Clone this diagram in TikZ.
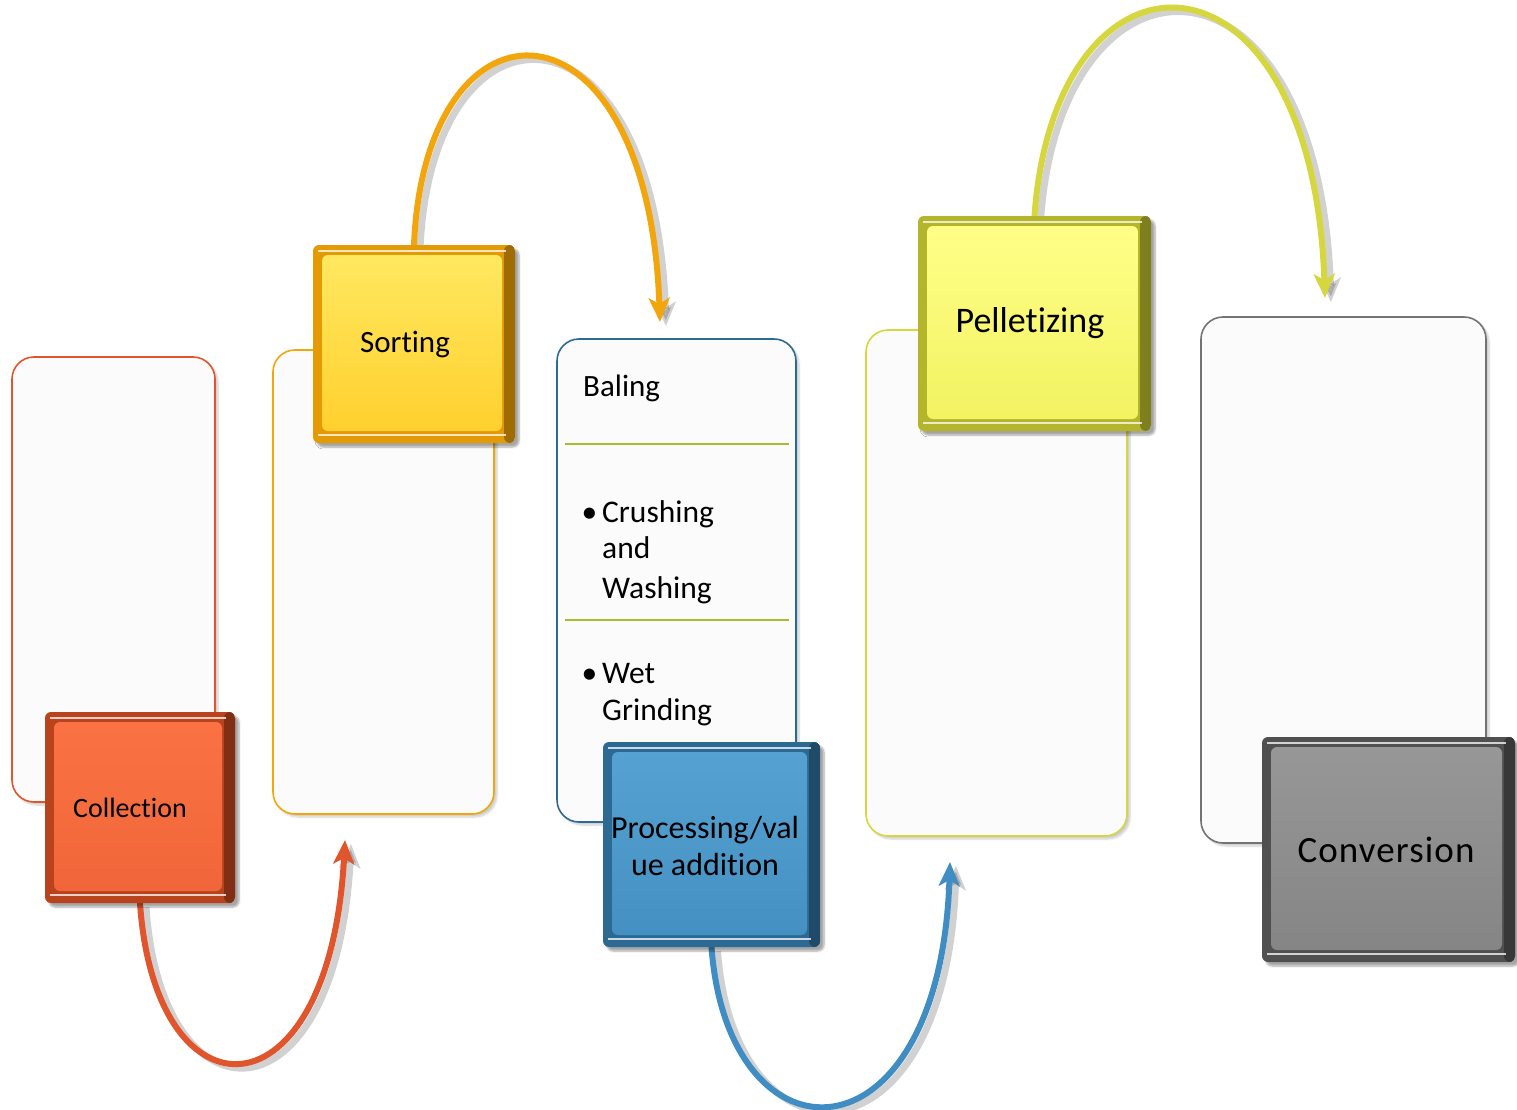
\documentclass[tikz,border=0pt]{standalone}
\usepackage{fontspec}
\setmainfont{Carlito}[Ligatures={NoCommon,NoRare}]
\usetikzlibrary{arrows.meta,shadows.blur}
\pgfdeclarelayer{background}
\pgfsetlayers{background,main}

\definecolor{redD}{HTML}{B8431C}
\definecolor{redM}{HTML}{F0663A}
\definecolor{redL}{HTML}{FA7244}
\definecolor{redA}{HTML}{E0552C}
\definecolor{golD}{HTML}{E39A05}
\definecolor{golM}{HTML}{FFD02E}
\definecolor{golL}{HTML}{FFE860}
\definecolor{golA}{HTML}{F2A60C}
\definecolor{bluD}{HTML}{2C6A94}
\definecolor{bluM}{HTML}{4590C2}
\definecolor{bluL}{HTML}{55A2D2}
\definecolor{bluA}{HTML}{3F8DC2}
\definecolor{yelD}{HTML}{B5B52C}
\definecolor{yelM}{HTML}{F2F262}
\definecolor{yelL}{HTML}{FFFF88}
\definecolor{yelA}{HTML}{D6D63E}
\definecolor{gryD}{HTML}{505050}
\definecolor{gryM}{HTML}{858585}
\definecolor{gryL}{HTML}{979797}
\definecolor{sepG}{HTML}{A4BE2E}

\tikzset{
  panel/.style={draw=#1, line width=1.6pt, fill=white!98.5!black,
    rounded corners=22pt, inner sep=0pt,
    blur shadow={shadow xshift=3pt, shadow yshift=-3pt, shadow opacity=20, shadow blur steps=6}},
  stepbox/.style n args={3}{fill=#1, rounded corners=6pt, inner sep=0pt,
    blur shadow={shadow xshift=4pt, shadow yshift=-4pt, shadow opacity=35, shadow blur steps=6},
    path picture={
      \fill[#1!70!black] ([shift={(-11pt,0pt)}]path picture bounding box.north east) rectangle (path picture bounding box.south east);
      \shade[top color=#3, bottom color=#2]
        ([shift={(9pt,-10pt)}]path picture bounding box.north west) rectangle
        ([shift={(-13pt,12pt)}]path picture bounding box.south east);
      \draw[white, opacity=0.75, line width=2.2pt]
        ([shift={(5pt,-6pt)}]path picture bounding box.north west) --
        ([shift={(-9pt,-6pt)}]path picture bounding box.north east);
      \draw[white, opacity=0.75, line width=2.2pt]
        ([shift={(5pt,8pt)}]path picture bounding box.south west) --
        ([shift={(-9pt,8pt)}]path picture bounding box.south east);
    }},
  flow/.style={draw=#1, line width=6pt, line cap=round,
    -{Stealth[length=24pt,width=21pt,inset=6pt]}},
  flowshadow/.style={draw=black, opacity=0.18, line width=7pt,
    -{Stealth[length=24pt,width=21pt,inset=6pt]}},
  lbl/.style={text=black, inner sep=0pt},
  sep/.style={draw=sepG, line width=2pt}
}

\begin{document}
\begin{tikzpicture}[x=1pt,y=-1pt]
\useasboundingbox (0,0) rectangle (1517,1110);

% ---------- panels ----------
\node[panel=redA, minimum width=203pt, minimum height=445pt] (p1) at (113.5,579.5) {};
\node[panel=golA, minimum width=221pt, minimum height=464pt] (p2) at (383.5,582) {};
\node[panel=bluD, minimum width=239pt, minimum height=483pt] (p3) at (676.5,580.5) {};
\node[panel=yelA, minimum width=261pt, minimum height=506pt] (p4) at (996.5,583) {};
\node[panel=gryD!80, minimum width=285pt, minimum height=526pt] (p5) at (1343.5,580) {};

\draw[sep] (565,444) -- (789,444);
\draw[sep] (565,620) -- (789,620);

\node[lbl, anchor=base west, font=\fontsize{31}{37}\selectfont] (baling) at (583,396) {Baling};
\node[lbl, anchor=base west, font=\fontsize{31.5}{37}\selectfont] (cr1) at (602,522) {\llap{\textbullet\hspace{5pt}}Crushing};
\node[lbl, anchor=base west, font=\fontsize{31.5}{37}\selectfont] (cr2) at (602,558) {and};
\node[lbl, anchor=base west, font=\fontsize{31.5}{37}\selectfont] (cr3) at (602,598) {Washing};
\node[lbl, anchor=base west, font=\fontsize{31.5}{37}\selectfont] (wg1) at (602,683) {\llap{\textbullet\hspace{5pt}}Wet};
\node[lbl, anchor=base west, font=\fontsize{31.5}{37}\selectfont] (wg2) at (602,720) {Grinding};

% ---------- step boxes ----------
\node[stepbox={redD}{redM}{redL}, minimum width=190pt, minimum height=191pt] (b1) at (140,807.5) {};
\node[stepbox={golD}{golM}{golL}, minimum width=202pt, minimum height=198pt] (b2) at (414,344) {};
\node[stepbox={bluD}{bluM}{bluL}, minimum width=217pt, minimum height=205pt] (b3) at (711.5,844.5) {};
\node[stepbox={yelD}{yelM}{yelL}, minimum width=233pt, minimum height=215pt] (b4) at (1034.5,323.5) {};
\node[stepbox={gryD}{gryM}{gryL}, minimum width=253pt, minimum height=225pt] (b5) at (1388.5,849.5) {};

\node[lbl, font=\fontsize{28}{34}\selectfont] (t-coll) at (130,808) {Collection};
\node[lbl, font=\fontsize{31}{37}\selectfont] (t-sort) at (405,344) {Sorting};
\node[lbl, font=\fontsize{32}{37}\selectfont, align=center] (t-proc) at (705,846) {Processing/val\\ue addition};
\node[lbl, font=\fontsize{36}{40}\selectfont] (t-pell) at (1030,323) {Pelletizing};
\node[lbl, font=\fontsize{37}{42}\selectfont] (t-conv) at (1386,850) {\addfontfeatures{LetterSpace=3}Conversion};

% ---------- arrows (behind the boxes) ----------
\coordinate (e1) at (345,840);
\coordinate (e2) at (660,322);
\coordinate (e3) at (950,862);
\coordinate (e4) at (1325,298);

\begin{pgfonlayer}{background}
\begin{scope}[transform canvas={shift={(6pt,-4pt)}}]
\draw[flowshadow] (b1.south) .. controls (155,1125) and (330,1125) .. (e1);
\draw[flowshadow] (b2.north) .. controls (425,-17) and (648,-17) .. (e2);
\draw[flowshadow] (b3.south) .. controls (728,1171) and (940,1171) .. (e3);
\draw[flowshadow] (b4.north) .. controls (1055,-72) and (1312,-72) .. (e4);
\end{scope}

\draw[flow=redA] (b1.south) .. controls (155,1125) and (330,1125) .. (e1);
\draw[flow=golA] (b2.north) .. controls (425,-17) and (648,-17) .. (e2);
\draw[flow=bluA] (b3.south) .. controls (728,1171) and (940,1171) .. (e3);
\draw[flow=yelA] (b4.north) .. controls (1055,-72) and (1312,-72) .. (e4);
\end{pgfonlayer}
\end{tikzpicture}
\end{document}
